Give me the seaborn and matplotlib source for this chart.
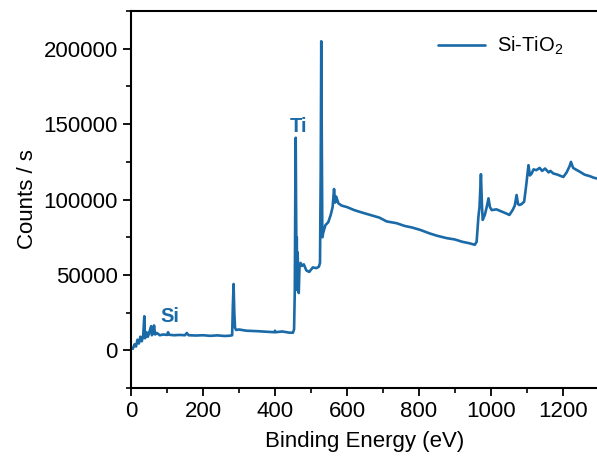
import matplotlib
matplotlib.use("Agg")
import matplotlib.pyplot as plt
import seaborn as sns
from matplotlib.ticker import MultipleLocator

# survey spectrum (binding energy eV, counts/s)
be = [0, 5, 10, 14, 18, 22, 26, 30, 34, 37, 39, 43, 47, 52, 56, 58, 62, 64, 67, 72,
      80, 90, 100, 103, 106, 120, 135, 150, 155, 160, 180, 200, 220, 240, 260, 275,
      281, 283, 285, 287, 289, 292, 300, 320, 350, 380, 398, 400, 402, 420, 440, 450,
      453, 455, 456.5, 457.5, 458.5, 459.5, 460.5, 461.5, 463, 464.5, 466, 468, 471,
      475, 480, 487, 495, 505, 515, 522, 525, 527, 528.5, 530, 531.5, 534, 540, 548,
      555, 560, 564, 567, 570, 576, 585, 600, 620, 640, 664, 690, 710, 738, 760, 780,
      803, 830, 850, 877, 900, 920, 940, 955, 960, 965, 968, 972, 975, 977, 983, 988,
      993, 997, 1002, 1015, 1030, 1040, 1051, 1060, 1066, 1071, 1075, 1079, 1085, 1092,
      1098, 1104, 1108, 1113, 1118, 1126, 1135, 1142, 1150, 1160, 1165, 1173, 1185,
      1195, 1201, 1210, 1218, 1222, 1228, 1235, 1247, 1260, 1275, 1285, 1294, 1300]
counts = [1500, 1000, 4000, 2500, 7000, 4500, 9000, 6000, 10000, 22600, 8000, 12000,
          9000, 13000, 16000, 10000, 12000, 16500, 10500, 11500,
          10000, 10500, 10200, 12000, 10300, 10000, 10200, 10000, 11500, 10000, 9800,
          10000, 9600, 9900, 9500, 9700,
          10000, 30000, 44000, 25000, 15000, 13500, 13800, 13000, 12700, 12300, 12000,
          13000, 12000, 12500, 11700, 11700,
          14000, 40000, 110000, 141000, 100000, 60000, 75000, 40000, 65000, 45000,
          38000, 55000, 58000,
          56000, 57000, 53000, 52000, 55000, 54500, 55500, 58000, 120000, 205000,
          140000, 75000, 78000, 83000, 85000,
          90000, 95000, 107000, 98000, 102000, 97500, 96000, 95000, 93000, 91500, 89800,
          88000, 85500, 84300, 82500, 81500,
          79900, 77500, 76000, 74400, 73500, 72000, 71000, 70000, 72000, 88600, 95000,
          116800, 95000, 86500, 90000, 95000,
          100800, 95000, 93000, 93500, 92000, 91000, 89800, 93000, 96000, 103000, 97000,
          96400, 97000, 98600,
          110000, 122800, 116000, 117300, 120000, 119500, 121000, 119000, 120600, 118000,
          119000, 117300, 116500,
          115500, 115000, 118000, 122000, 125000, 121000, 120000, 118400, 116500, 115500,
          114500, 114000, 113500]

peak_names = ["Si", "Ti"]
peak_x = [108, 466]
peak_y = [18500, 144500]

blue = "#1a6aa8"

sns.set_style("ticks")
plt.rcParams["font.family"] = ["Liberation Sans", "DejaVu Sans"]
plt.rcParams["mathtext.fontset"] = "custom"
plt.rcParams["mathtext.rm"] = "Liberation Sans"
plt.rcParams["mathtext.default"] = "regular"
plt.rcParams["text.color"] = "black"
plt.rcParams["axes.labelcolor"] = "black"
plt.rcParams["axes.edgecolor"] = "black"
plt.rcParams["xtick.color"] = "black"
plt.rcParams["ytick.color"] = "black"

fig = plt.figure(figsize=(5.97, 4.63), dpi=100)
ax = fig.add_axes([0.2194, 0.162, 0.784, 0.814])

sns.lineplot(x=be, y=counts, ax=ax, color=blue, lw=1.9, label="Si-TiO$_2$")

for name, px, py in zip(peak_names, peak_x, peak_y):
    ax.text(px, py, name, color=blue, fontsize=14.5, fontweight="bold",
            ha="center", va="baseline")

ax.set_xlim(0, 1300)
ax.set_ylim(-25000, 225000)
ax.xaxis.set_major_locator(MultipleLocator(200))
ax.xaxis.set_minor_locator(MultipleLocator(100))
ax.yaxis.set_major_locator(MultipleLocator(50000))
ax.yaxis.set_minor_locator(MultipleLocator(25000))

for side in ["left", "bottom", "top"]:
    ax.spines[side].set_linewidth(1.5)
ax.spines["right"].set_visible(False)
ax.tick_params(which="major", length=6, width=1.3, labelsize=16, direction="out")
ax.tick_params(which="minor", length=3.5, width=1.2, direction="out")

ax.set_xlabel("Binding Energy (eV)", fontsize=16, labelpad=6)
ax.set_ylabel("Counts / s", fontsize=16)

leg = ax.legend(loc="upper right", bbox_to_anchor=(0.962, 0.985), frameon=False,
                fontsize=14.5, handlelength=2.3, handletextpad=0.6)

fig.savefig("out.png", dpi=100)
